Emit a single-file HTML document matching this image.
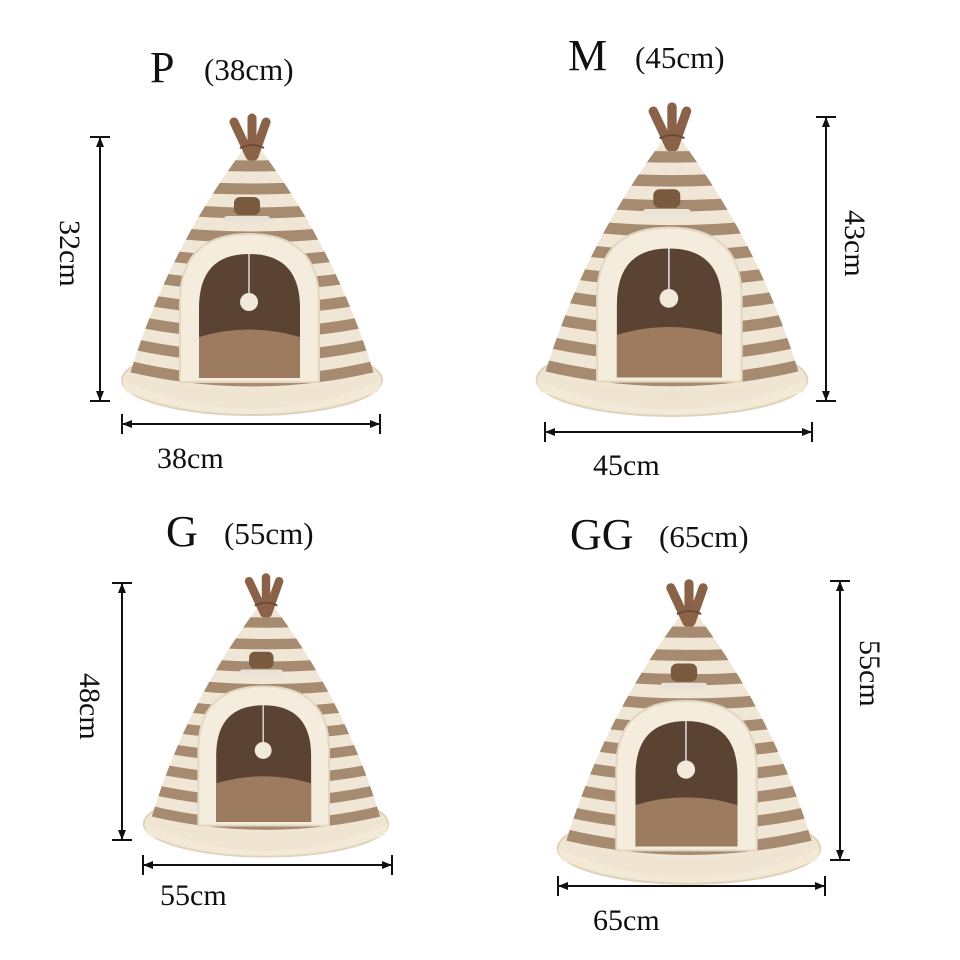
<!DOCTYPE html>
<html><head><meta charset="utf-8"><style>
html,body{margin:0;padding:0;background:#fff;}
svg{display:block}
text{font-family:"Liberation Serif",serif;fill:#111}
</style></head><body>
<svg width="960" height="960" viewBox="0 0 960 960" xmlns="http://www.w3.org/2000/svg">
<defs>
<clipPath id="cone"><path d="M-9,8 L9,8 Q85,110 122,232 Q0,262 -122,232 Q-85,110 -9,8 Z"/></clipPath>
<marker id="ah" markerWidth="10" markerHeight="10" refX="9" refY="5" orient="auto-start-reverse" markerUnits="userSpaceOnUse">
<path d="M0,1 L10,5 L0,9 Z" fill="#111"/></marker>
<g id="tp">
  <ellipse cx="0" cy="238" rx="130" ry="35" fill="#efe5d2" stroke="#e0d3bc" stroke-width="2"/>
  <path d="M-9,8 L9,8 Q85,110 122,232 Q0,262 -122,232 Q-85,110 -9,8 Z" fill="#efe6d6"/>
  <g clip-path="url(#cone)" stroke="#a68b70" stroke-width="11" fill="none">
    <path d="M-140,14 Q0,34 140,14"/>
    <path d="M-140,36 Q0,58 140,36"/>
    <path d="M-140,59 Q0,83 140,59"/>
    <path d="M-140,82 Q0,108 140,82"/>
    <path d="M-140,105 Q0,133 140,105"/>
    <path d="M-140,128 Q0,158 140,128"/>
    <path d="M-140,151 Q0,183 140,151"/>
    <path d="M-140,174 Q0,208 140,174"/>
    <path d="M-140,197 Q0,233 140,197"/>
    <path d="M-140,220 Q0,258 140,220"/>
  </g>
  <g stroke="#8a6248" stroke-width="9" stroke-linecap="round">
    <line x1="-2" y1="14" x2="-18" y2="-20"/>
    <line x1="0" y1="14" x2="0" y2="-24"/>
    <line x1="2" y1="14" x2="14" y2="-20"/>
  </g>
  <path d="M-12,6 Q0,0 12,6" stroke="#6b4a36" stroke-width="2" fill="none"/>
  <rect x="-18" y="55" width="26" height="18" rx="6" fill="#7a5a3e"/>
  <rect x="-28" y="74" width="46" height="6" rx="3" fill="#e9e2d6"/>
  <path d="M-72,240 L-72,160 Q-72,92 -3,92 Q67,92 67,160 L67,240 Z" fill="#f4ecdc" stroke="#e4d7c2" stroke-width="2"/>
  <path d="M-53,236 L-53,166 Q-53,112 -3,112 Q48,112 48,166 L48,236 Z" fill="#5a4333"/>
  <path d="M-53,236 L-53,195 Q-3,180 48,195 L48,236 Z" fill="#9c7b5e"/>
  <line x1="-3" y1="112" x2="-3" y2="155" stroke="#ddd" stroke-width="1.5"/>
  <circle cx="-3" cy="160" r="9" fill="#f1e9da"/>
  <path d="M-130,238 Q0,296 130,238 L126,250 Q0,294 -126,250 Z" fill="#f2e9d7"/>
  <path d="M-122,236 Q0,278 122,236 Q0,264 -122,236 Z" fill="#eee3cf"/>
</g>
</defs>
<rect width="960" height="960" fill="#fff"/>

<use href="#tp" transform="translate(252,142)"/>
<use href="#tp" transform="translate(672,132) scale(1.04)"/>
<use href="#tp" transform="translate(266,600) scale(0.94)"/>
<use href="#tp" transform="translate(689,608) scale(1.01)"/>

<g stroke="#111" stroke-width="2" fill="none">
  <line x1="100" y1="138" x2="100" y2="400" marker-start="url(#ah)" marker-end="url(#ah)"/>
  <line x1="90" y1="137" x2="110" y2="137"/><line x1="90" y1="401" x2="110" y2="401"/>
  <line x1="123" y1="424" x2="379" y2="424" marker-start="url(#ah)" marker-end="url(#ah)"/>
  <line x1="122" y1="414" x2="122" y2="434"/><line x1="380" y1="414" x2="380" y2="434"/>

  <line x1="826" y1="118" x2="826" y2="400" marker-start="url(#ah)" marker-end="url(#ah)"/>
  <line x1="816" y1="117" x2="836" y2="117"/><line x1="816" y1="401" x2="836" y2="401"/>
  <line x1="546" y1="432" x2="811" y2="432" marker-start="url(#ah)" marker-end="url(#ah)"/>
  <line x1="545" y1="422" x2="545" y2="442"/><line x1="812" y1="422" x2="812" y2="442"/>

  <line x1="122" y1="584" x2="122" y2="839" marker-start="url(#ah)" marker-end="url(#ah)"/>
  <line x1="112" y1="583" x2="132" y2="583"/><line x1="112" y1="840" x2="132" y2="840"/>
  <line x1="144" y1="865" x2="391" y2="865" marker-start="url(#ah)" marker-end="url(#ah)"/>
  <line x1="143" y1="855" x2="143" y2="875"/><line x1="392" y1="855" x2="392" y2="875"/>

  <line x1="840" y1="582" x2="840" y2="859" marker-start="url(#ah)" marker-end="url(#ah)"/>
  <line x1="830" y1="581" x2="850" y2="581"/><line x1="830" y1="860" x2="850" y2="860"/>
  <line x1="559" y1="886" x2="824" y2="886" marker-start="url(#ah)" marker-end="url(#ah)"/>
  <line x1="558" y1="876" x2="558" y2="896"/><line x1="825" y1="876" x2="825" y2="896"/>
</g>

<text x="150" y="82" font-size="44">P</text>
<text x="204" y="80" font-size="31">(38cm)</text>
<text x="568" y="70" font-size="44">M</text>
<text x="635" y="68" font-size="31">(45cm)</text>
<text x="166" y="546" font-size="44">G</text>
<text x="224" y="544" font-size="31">(55cm)</text>
<text x="570" y="549" font-size="44">GG</text>
<text x="659" y="547" font-size="31">(65cm)</text>

<text x="157" y="468" font-size="30">38cm</text>
<text x="593" y="475" font-size="30">45cm</text>
<text x="160" y="905" font-size="30">55cm</text>
<text x="593" y="930" font-size="30">65cm</text>

<text font-size="30" transform="translate(60,220) rotate(90)">32cm</text>
<text font-size="30" transform="translate(845,210) rotate(90)">43cm</text>
<text font-size="30" transform="translate(80,673) rotate(90)">48cm</text>
<text font-size="30" transform="translate(860,640) rotate(90)">55cm</text>
</svg>
</body></html>
